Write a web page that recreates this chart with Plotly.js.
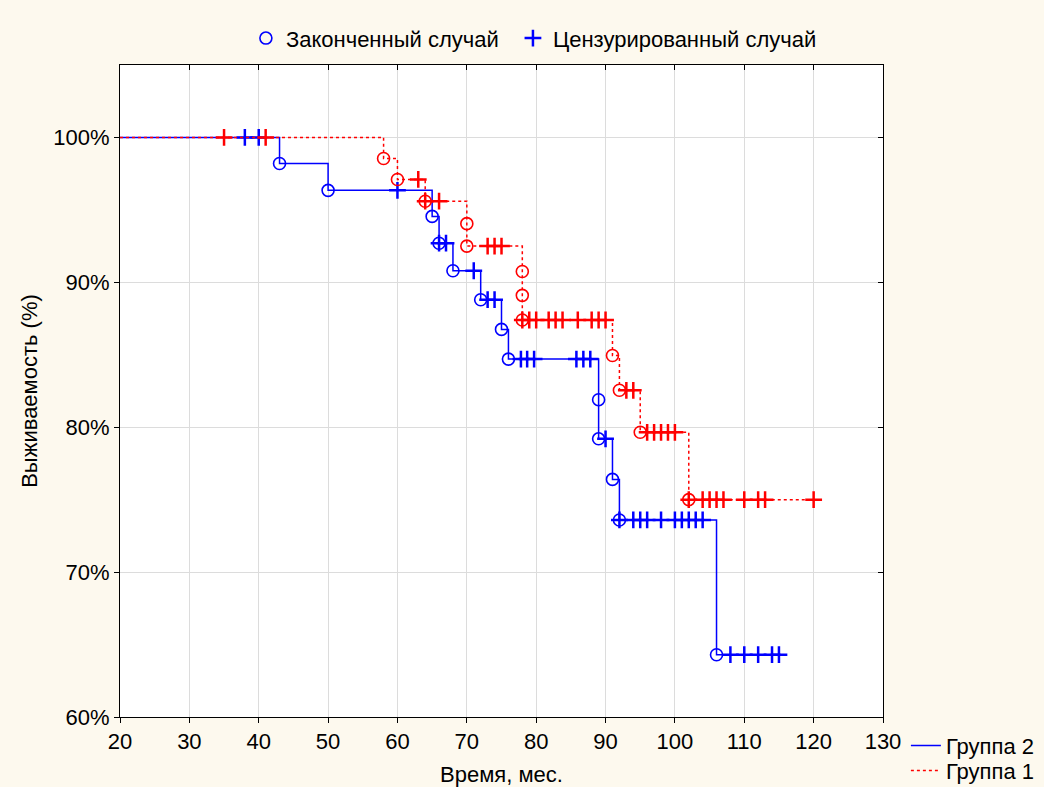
<!DOCTYPE html>
<html>
<head>
<meta charset="utf-8">
<script src="https://cdn.plot.ly/plotly-3.0.1.min.js"></script>
<style>html,body{margin:0;padding:0;background:#fdf9ee;}#chart{width:1044px;height:787px;}</style>
</head>
<body>
<div id="chart"></div>
<script>
// Group 2 (blue, solid)
const g2EventTime = [43, 50, 65, 66, 68, 72, 75, 76, 89, 89, 91, 92, 106];
const g2EventSurv = [98.2, 96.35, 94.55, 92.7, 90.8, 88.8, 86.75, 84.7, 81.9, 79.2, 76.4, 73.6, 64.3];
const g2CensTime = [38, 40, 60, 66, 67, 71, 73, 74, 77.8, 78.7, 79.7, 85.8, 86.8, 87.8, 90, 92, 94, 95, 96, 98, 100, 101, 102, 103, 104, 108, 110, 112, 114, 115];
const g2EndTime = 115.7;

// Group 1 (red, dotted)
const g1EventTime = [58, 60, 64, 70, 70, 78, 78, 78, 91, 92, 95, 102];
const g1EventSurv = [98.55, 97.1, 95.6, 94.05, 92.5, 90.75, 89.1, 87.4, 84.95, 82.55, 79.65, 75.0];
const g1CensTime = [35, 41, 63, 64, 66, 73, 74, 75, 78, 79, 80, 81.8, 82.8, 83.8, 86, 88, 89, 90, 93, 94, 96, 97, 98, 99, 100, 102, 104, 105, 106, 107, 110, 112, 113, 120];
const g1EndTime = 120;

const startTime = 20;
const startSurv = 100;

const xTicks = [20, 30, 40, 50, 60, 70, 80, 90, 100, 110, 120, 130];
const yTicks = [60, 70, 80, 90, 100];
const yTickLabels = ['60%', '70%', '80%', '90%', '100%'];

const legendTopNames = ['Законченный случай', 'Цензурированный случай'];
const groupNames = ['Группа 2', 'Группа 1'];

function survAt(times, survs, t) {
  let s = startSurv;
  for (let i = 0; i < times.length; i++) if (times[i] <= t) s = survs[i];
  return s;
}
function stepLine(times, survs, end) {
  return {x: [startTime].concat(times, [end]), y: [startSurv].concat(survs, [survs[survs.length - 1]])};
}

const FONT = '"Liberation Sans", Arial, sans-serif';
const FS = 22;
const BLUE = '#0000ff', RED = '#ff0000';

const l2 = stepLine(g2EventTime, g2EventSurv, g2EndTime);
const l1 = stepLine(g1EventTime, g1EventSurv, g1EndTime);

const traces = [
  {x: l2.x, y: l2.y, mode: 'lines', line: {shape: 'hv', color: BLUE, width: 1.5}, name: groupNames[0], legend: 'legend2', hoverinfo: 'skip'},
  {x: g2EventTime, y: g2EventSurv, mode: 'markers', marker: {symbol: 'circle-open', size: 12, color: BLUE, line: {width: 1.6}}, name: legendTopNames[0], legend: 'legend'},
  {x: g2CensTime, y: g2CensTime.map(t => survAt(g2EventTime, g2EventSurv, t)), mode: 'markers', marker: {symbol: 'cross-thin-open', size: 12, color: BLUE, line: {width: 2.5, color: BLUE}}, name: legendTopNames[1], legend: 'legend4'},
  {x: l1.x, y: l1.y, mode: 'lines', line: {shape: 'hv', color: RED, width: 1.5, dash: 'dot'}, name: groupNames[1], legend: 'legend3', hoverinfo: 'skip'},
  {x: g1EventTime, y: g1EventSurv, mode: 'markers', marker: {symbol: 'circle-open', size: 12, color: RED, line: {width: 1.6}}, showlegend: false},
  {x: g1CensTime, y: g1CensTime.map(t => survAt(g1EventTime, g1EventSurv, t)), mode: 'markers', marker: {symbol: 'cross-thin-open', size: 12, color: RED, line: {width: 2.5, color: RED}}, showlegend: false},
  {x: [null], y: [null], xaxis: 'x2', yaxis: 'y2', showlegend: false, mode: 'markers'}
];

const legendBase = {orientation: 'v', xanchor: 'left', yanchor: 'middle', bgcolor: 'rgba(0,0,0,0)', font: {family: FONT, size: FS}};

const layout = {
  width: 1044, height: 787,
  paper_bgcolor: '#fdf9ee', plot_bgcolor: '#ffffff',
  margin: {l: 120, r: 161, t: 65, b: 70, autoexpand: false},
  font: {family: FONT, size: FS, color: '#000'},
  xaxis: {
    range: [20, 130], tickvals: xTicks, ticktext: xTicks.map(String),
    showgrid: true, gridcolor: '#dcdcdc', gridwidth: 1, zeroline: false,
    showline: true, mirror: true, linecolor: '#000', linewidth: 1,
    ticks: 'outside', ticklen: 5, tickcolor: '#000',
    tickfont: {family: FONT, size: FS},
    title: {text: 'Время, мес.', font: {family: FONT, size: FS}, standoff: 16}
  },
  yaxis: {
    range: [60, 105], tickvals: yTicks, ticktext: yTickLabels,
    showgrid: true, gridcolor: '#dcdcdc', gridwidth: 1, zeroline: false,
    showline: true, mirror: true, linecolor: '#000', linewidth: 1,
    ticks: 'outside', ticklen: 5, tickcolor: '#000',
    tickfont: {family: FONT, size: FS},
    title: {text: 'Выживаемость (%)', font: {family: FONT, size: FS}, standoff: 9}
  },
  xaxis2: {overlaying: 'x', side: 'top', range: [20, 130], tickvals: xTicks, showticklabels: false, ticks: 'inside', ticklen: 5, tickcolor: '#000', showgrid: false, zeroline: false, showline: false},
  yaxis2: {overlaying: 'y', side: 'right', range: [60, 105], tickvals: yTicks, showticklabels: false, ticks: 'inside', ticklen: 5, tickcolor: '#000', showgrid: false, zeroline: false, showline: false},
  legend: Object.assign({}, legendBase, {x: 0.165, y: 1.041, itemwidth: 30}),
  legend4: Object.assign({}, legendBase, {x: 0.515, y: 1.041, itemwidth: 30}),
  legend2: Object.assign({}, legendBase, {x: 1.030, y: -0.044}),
  legend3: Object.assign({}, legendBase, {x: 1.030, y: -0.0825}),
  showlegend: true
};

Plotly.newPlot('chart', traces, layout, {displayModeBar: false, staticPlot: true});
</script>
</body>
</html>
